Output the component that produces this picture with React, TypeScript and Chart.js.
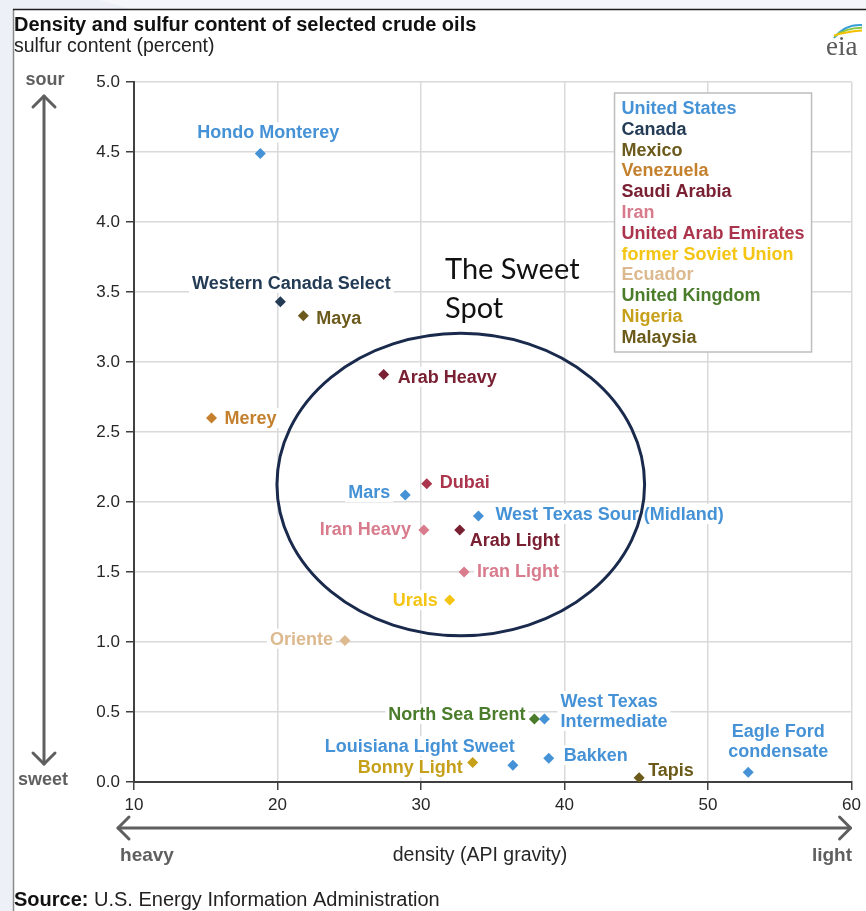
import React, { useEffect, useRef } from "react";
import { Chart, registerables } from "chart.js";

Chart.register(...registerables);

const FONT = "'Liberation Sans', Arial, sans-serif";

// ---- data ----
const COUNTRIES = [
  "United States",
  "Canada",
  "Mexico",
  "Venezuela",
  "Saudi Arabia",
  "Iran",
  "United Arab Emirates",
  "former Soviet Union",
  "Ecuador",
  "United Kingdom",
  "Nigeria",
  "Malaysia",
];
const COUNTRY_COLORS = [
  "#4592d6",
  "#233b55",
  "#6b5a1c",
  "#c5802d",
  "#7a2033",
  "#d87b8c",
  "#ab354d",
  "#f4c514",
  "#dcb98e",
  "#4a7c2b",
  "#c7a01a",
  "#6b5a19",
];

const CRUDE_NAMES = [
  "Hondo Monterey",
  "Western Canada Select",
  "Maya",
  "Merey",
  "Arab Heavy",
  "Mars",
  "Dubai",
  "West Texas Sour (Midland)",
  "Iran Heavy",
  "Arab Light",
  "Iran Light",
  "Urals",
  "Oriente",
  "North Sea Brent",
  "West Texas\nIntermediate",
  "Louisiana Light Sweet",
  "Bakken",
  "Bonny Light",
  "Tapis",
  "Eagle Ford\ncondensate",
];
// index into COUNTRIES
const CRUDE_COUNTRY = [0, 1, 2, 3, 4, 0, 6, 0, 5, 4, 5, 7, 8, 9, 0, 0, 0, 10, 11, 0];
const API_GRAVITY = [
  18.8, 20.2, 21.8, 15.4, 27.4, 28.9, 30.4, 34.0, 30.2, 32.7, 33.0, 32.0, 24.7, 37.9, 38.6, 36.4, 38.9, 33.6,
  45.2, 52.8,
];
const SULFUR = [
  4.49, 3.43, 3.33, 2.6, 2.91, 2.05, 2.13, 1.9, 1.8, 1.8, 1.5, 1.3, 1.01, 0.45, 0.45, 0.12, 0.17, 0.14, 0.03,
  0.07,
];

const X_TICKS = [10, 20, 30, 40, 50, 60];
const Y_TICKS = [0, 0.5, 1, 1.5, 2, 2.5, 3, 3.5, 4, 4.5, 5];

// "sweet spot" ellipse in data units
const SWEET_SPOT = { cx: 32.77, cy: 2.125, rx: 12.81, ry: 1.08 };

// label placement (style): [align, dx, dy]
const LABEL_PLACEMENT: Record<string, [string, number, number]> = {
  "Hondo Monterey": ["center", 8, -21],
  "Western Canada Select": ["center", 11, -19],
  Maya: ["left", 13, 2],
  Merey: ["left", 13, 0],
  "Arab Heavy": ["left", 14, 2],
  Mars: ["right", -15, -3],
  Dubai: ["left", 13, -2],
  "West Texas Sour (Midland)": ["left", 17, -2],
  "Iran Heavy": ["right", -13, -1],
  "Arab Light": ["left", 10, 10],
  "Iran Light": ["left", 13, -1],
  Urals: ["right", -12, 0],
  Oriente: ["right", -12, -2],
  "North Sea Brent": ["right", -9, -5],
  "West Texas\nIntermediate": ["left", 16, -18],
  "Louisiana Light Sweet": ["right", 2, -19],
  Bakken: ["left", 15, -3],
  "Bonny Light": ["right", -10, 5],
  Tapis: ["left", 9, -8],
  "Eagle Ford\ncondensate": ["center", 30, -41],
};

function arrowHead(ctx: CanvasRenderingContext2D, x: number, y: number, dir: string) {
  const a = 11;
  ctx.beginPath();
  if (dir === "up") {
    ctx.moveTo(x - a, y + a);
    ctx.lineTo(x, y);
    ctx.lineTo(x + a, y + a);
  } else if (dir === "down") {
    ctx.moveTo(x - a, y - a);
    ctx.lineTo(x, y);
    ctx.lineTo(x + a, y - a);
  } else if (dir === "left") {
    ctx.moveTo(x + a, y - a);
    ctx.lineTo(x, y);
    ctx.lineTo(x + a, y + a);
  } else {
    ctx.moveTo(x - a, y - a);
    ctx.lineTo(x, y);
    ctx.lineTo(x - a, y + a);
  }
  ctx.stroke();
}

const decorPlugin = {
  id: "decor",
  beforeDraw(chart: any) {
    const ctx: CanvasRenderingContext2D = chart.ctx;
    const W = chart.width;
    const H = chart.height;
    ctx.save();
    ctx.fillStyle = "#edf1f7";
    ctx.fillRect(0, 0, W, H);
    ctx.fillStyle = "#f4f6fa";
    ctx.beginPath();
    ctx.moveTo(100, 0);
    ctx.lineTo(W, 0);
    ctx.lineTo(W, 9);
    ctx.lineTo(130, 9);
    ctx.closePath();
    ctx.fill();
    ctx.fillStyle = "#ffffff";
    ctx.fillRect(13, 10, W - 13, H - 10);
    ctx.strokeStyle = "#8a8a8a";
    ctx.lineWidth = 1.5;
    ctx.beginPath();
    ctx.moveTo(13.5, 9);
    ctx.lineTo(13.5, H);
    ctx.stroke();
    ctx.strokeStyle = "#1e1e1e";
    ctx.beginPath();
    ctx.moveTo(13, 9.5);
    ctx.lineTo(W, 9.5);
    ctx.stroke();

    // title
    ctx.textBaseline = "middle";
    ctx.textAlign = "left";
    ctx.fillStyle = "#111";
    ctx.font = `bold 20px ${FONT}`;
    ctx.fillText("Density and sulfur content of selected crude oils", 14, 25);
    ctx.font = `19.5px ${FONT}`;
    ctx.fillStyle = "#222";
    ctx.fillText("sulfur content (percent)", 14, 47);

    // eia logo
    ctx.font = `27px 'Liberation Serif', 'DejaVu Serif', serif`;
    ctx.fillStyle = "#5a5a5a";
    ctx.fillText("eia", 826, 48);
    const arcs = [
      ["#3aa0d8", 0],
      ["#8cc63f", 4],
      ["#f2c200", 8],
    ] as [string, number][];
    ctx.lineWidth = 2;
    arcs.forEach(([c, o]) => {
      ctx.strokeStyle = c;
      ctx.beginPath();
      ctx.moveTo(834, 38 - o * 0.3);
      ctx.quadraticCurveTo(845, 24 + o, 862, 25 + o * 0.7);
      ctx.stroke();
    });

    // source
    ctx.fillStyle = "#111";
    ctx.font = `bold 20px ${FONT}`;
    ctx.fillText("Source:", 14, 900);
    const sw = ctx.measureText("Source: ").width;
    ctx.font = `20px ${FONT}`;
    ctx.fillStyle = "#222";
    ctx.fillText("U.S. Energy Information Administration", 14 + sw, 900);
    ctx.restore();
  },
  beforeDatasetsDraw(chart: any) {
    const ctx: CanvasRenderingContext2D = chart.ctx;
    ctx.save();
    ctx.font = `bold 18px ${FONT}`;
    ctx.textBaseline = "middle";
    chart.data.datasets.forEach((ds: any, di: number) => {
      const meta = chart.getDatasetMeta(di);
      meta.data.forEach((el: any, k: number) => {
        const name: string = ds.data[k].name;
        const p = LABEL_PLACEMENT[name] || ["left", 12, 0];
        const lines = name.split("\n");
        lines.forEach((t, li) => {
          const ty = el.y + p[2] + li * 20;
          const w = ctx.measureText(t).width;
          const bx = el.x + p[1];
          const lx = p[0] === "left" ? bx : p[0] === "right" ? bx - w : bx - w / 2;
          ctx.fillStyle = "#ffffff";
          ctx.fillRect(lx - 3, ty - 10, w + 6, 20);
        });
        ctx.fillStyle = ds.backgroundColor;
        lines.forEach((t, li) => {
          const ty = el.y + p[2] + li * 20;
          const w = ctx.measureText(t).width;
          const bx = el.x + p[1];
          const lx = p[0] === "left" ? bx : p[0] === "right" ? bx - w : bx - w / 2;
          ctx.textAlign = "left";
          ctx.fillText(t, lx, ty + 1);
        });
      });
    });
    ctx.restore();
  },
  afterDatasetsDraw(chart: any) {
    const ctx: CanvasRenderingContext2D = chart.ctx;
    const xs = chart.scales.x;
    const ys = chart.scales.y;
    const area = chart.chartArea;
    ctx.save();

    // sweet spot ellipse
    const cx = xs.getPixelForValue(SWEET_SPOT.cx);
    const cy = ys.getPixelForValue(SWEET_SPOT.cy);
    const rx = xs.getPixelForValue(SWEET_SPOT.cx + SWEET_SPOT.rx) - cx;
    const ry = cy - ys.getPixelForValue(SWEET_SPOT.cy + SWEET_SPOT.ry);
    ctx.strokeStyle = "#1a2a4c";
    ctx.lineWidth = 3;
    ctx.beginPath();
    ctx.ellipse(cx, cy, rx, ry, 0, 0, Math.PI * 2);
    ctx.stroke();

    ctx.fillStyle = "#111";
    ctx.font = `29px Lato, 'Open Sans', sans-serif`;
    ctx.textBaseline = "middle";
    ctx.textAlign = "left";
    ctx.fillText("The Sweet", 445, 270);
    ctx.fillText("Spot", 445, 309);

    // legend
    const lx = area.right - 237;
    const ly = area.top + 11;
    const lw = 197;
    const lh = 259;
    ctx.fillStyle = "#fff";
    ctx.fillRect(lx, ly, lw, lh);
    ctx.strokeStyle = "#bdbdbd";
    ctx.lineWidth = 1.5;
    ctx.strokeRect(lx, ly, lw, lh);
    ctx.font = `bold 18px ${FONT}`;
    COUNTRIES.forEach((c, i) => {
      ctx.fillStyle = COUNTRY_COLORS[i];
      ctx.fillText(c, lx + 7, ly + 16 + i * 20.8);
    });

    // arrows
    ctx.strokeStyle = "#5f5f5f";
    ctx.lineWidth = 3;
    ctx.lineCap = "round";
    ctx.lineJoin = "round";
    const ax = 44;
    const top = area.top + 14;
    const bot = area.bottom - 18;
    ctx.beginPath();
    ctx.moveTo(ax, top);
    ctx.lineTo(ax, bot);
    ctx.stroke();
    arrowHead(ctx, ax, top, "up");
    arrowHead(ctx, ax, bot, "down");
    const ay = area.bottom + 46;
    const lft = area.left - 16;
    const rgt = area.right - 1;
    ctx.beginPath();
    ctx.moveTo(lft, ay);
    ctx.lineTo(rgt, ay);
    ctx.stroke();
    arrowHead(ctx, lft, ay, "left");
    arrowHead(ctx, rgt, ay, "right");

    ctx.fillStyle = "#5f5f5f";
    ctx.font = `bold 18px ${FONT}`;
    ctx.textAlign = "center";
    ctx.fillText("sour", 45, area.top - 2);
    ctx.fillText("sweet", 43, area.bottom - 2);
    ctx.font = `bold 19px ${FONT}`;
    ctx.fillText("heavy", 147, area.bottom + 74);
    ctx.fillText("light", 832, area.bottom + 74);
    ctx.fillStyle = "#262626";
    ctx.font = `19.5px ${FONT}`;
    ctx.fillText("density (API gravity)", 480, area.bottom + 74);
    ctx.restore();
  },
};

export default function App() {
  const ref = useRef<HTMLCanvasElement>(null);
  useEffect(() => {
    if (!ref.current) return;
    const datasets = COUNTRIES.map((c, ci) => ({
      label: c,
      data: CRUDE_NAMES.map((n, i) => ({ x: API_GRAVITY[i], y: SULFUR[i], name: n, c: CRUDE_COUNTRY[i] })).filter(
        (d) => d.c === ci
      ),
      backgroundColor: COUNTRY_COLORS[ci],
      borderColor: COUNTRY_COLORS[ci],
      pointStyle: "rectRot" as const,
      pointRadius: 5.5,
      borderWidth: 0,
    }));
    const chart = new Chart(ref.current, {
      type: "scatter",
      data: { datasets },
      plugins: [decorPlugin],
      options: {
        animation: false,
        responsive: false,
        devicePixelRatio: 1,
        layout: { padding: { left: 0, right: 14, top: 82, bottom: 0 } },
        plugins: { legend: { display: false }, tooltip: { enabled: false } },
        scales: {
          x: {
            type: "linear",
            min: 10,
            max: 60,
            afterBuildTicks: (s: any) => {
              s.ticks = X_TICKS.map((v) => ({ value: v }));
            },
            afterFit: (s: any) => {
              s.height = 129;
            },
            ticks: { color: "#262626", font: { family: FONT, size: 17 }, padding: 5 },
            grid: { color: "#d9d9d9", lineWidth: 1.5, tickColor: "#404040", tickLength: 8 },
            border: { color: "#404040", width: 2 },
          },
          y: {
            min: 0,
            max: 5,
            afterBuildTicks: (s: any) => {
              s.ticks = Y_TICKS.map((v) => ({ value: v }));
            },
            afterFit: (s: any) => {
              s.width = 134;
            },
            ticks: {
              color: "#262626",
              font: { family: FONT, size: 17 },
              padding: 6,
              callback: (v: any) => Number(v).toFixed(1),
            },
            grid: { color: "#d9d9d9", lineWidth: 1.5, tickColor: "#404040", tickLength: 8 },
            border: { color: "#404040", width: 2 },
          },
        },
      },
    });
    return () => chart.destroy();
  }, []);
  return (
    <div style={{ position: "fixed", left: 0, top: 0, width: 866, height: 911 }}>
      <canvas ref={ref} width={866} height={911} style={{ width: 866, height: 911, display: "block" }} />
    </div>
  );
}
